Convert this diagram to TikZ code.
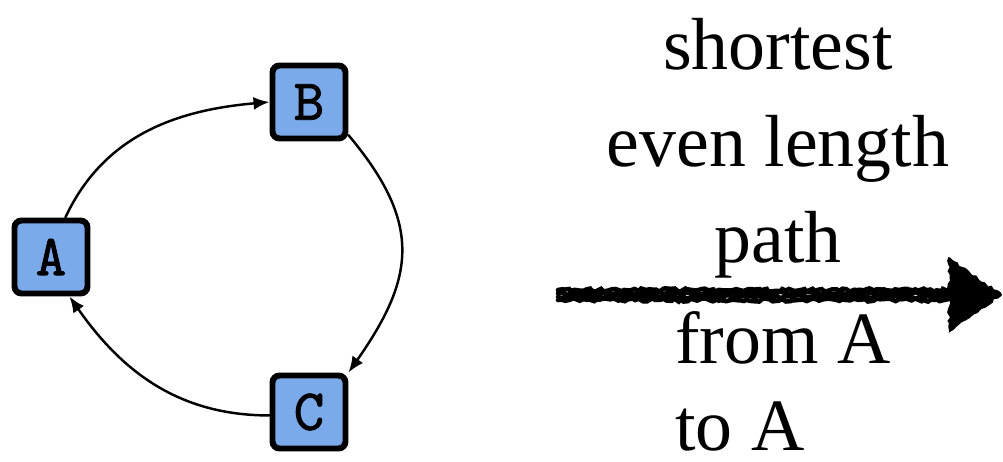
\documentclass[tikz,border=0pt]{standalone}
\usepackage{fontspec}
\setmainfont{Liberation Serif}
\newfontfamily\vertexfont{lmmono10-regular.otf}[FakeBold=1.5]
\usetikzlibrary{arrows.meta,calc,decorations.pathmorphing}
\definecolor{nodeblue}{RGB}{123,170,234}
\tikzset{
  vertex/.style={draw=black, line width=3.4pt, fill=nodeblue, rounded corners=4pt,
    minimum size=1.46cm, inner sep=0pt, font=\fontsize{33}{33}\selectfont\vertexfont},
  edge/.style={line width=1.4pt, -{Latex[length=3.2mm,width=2.6mm]}},
  caption/.style={anchor=base, inner sep=0pt, font=\fontsize{42}{50}\selectfont},
  chalk/.style={decorate, decoration={random steps, segment length=2pt, amplitude=0.9pt}}
}
\begin{document}
\begin{tikzpicture}[line cap=round]
  \pgfmathsetseed{7}
  \useasboundingbox (0,0) rectangle (20.06,-9.24);
  % the cycle A -> B -> C -> A
  \node[vertex] (A) at (1.02,-5.14) {A};
  \node[vertex] (B) at (6.18,-2.04) {B};
  \node[vertex] (C) at (6.18,-8.24) {C};
  \draw[edge] (A.70) to[out=65,in=185] (B.west);
  \draw[edge] (B.-40) to[out=-50,in=55,looseness=1.25] (C.45);
  \draw[edge] (C.185) to[out=180,in=-55] (A.-65);
  % chalk arrow
  \coordinate (s) at (11.16,-5.9);
  \coordinate (e) at (19.05,-5.9);
  \coordinate (tip) at (20.04,-5.9);
  \foreach \dy in {-0.1,-0.035,0.035,0.1}
    \draw[chalk, line width=2.6pt] ($(s)+(0,\dy)$) -- ($(e)+(0,\dy)$);
  \fill[chalk] (tip) -- ($(e)+(-0.08,0.76)$) -- ($(e)+(-0.08,-0.76)$) -- cycle;
  % label
  \node[caption] (l1) at (15.56,-1.40) {shortest};
  \node[caption] (l2) at (15.56,-3.34) {even length};
  \node[caption] (l3) at (15.56,-5.24) {path};
  \node[caption, anchor=base west] (l4) at (13.5,-7.26) {from A};
  \node[caption, anchor=base west] (l5) at (13.5,-9.0) {to A};
\end{tikzpicture}
\end{document}
